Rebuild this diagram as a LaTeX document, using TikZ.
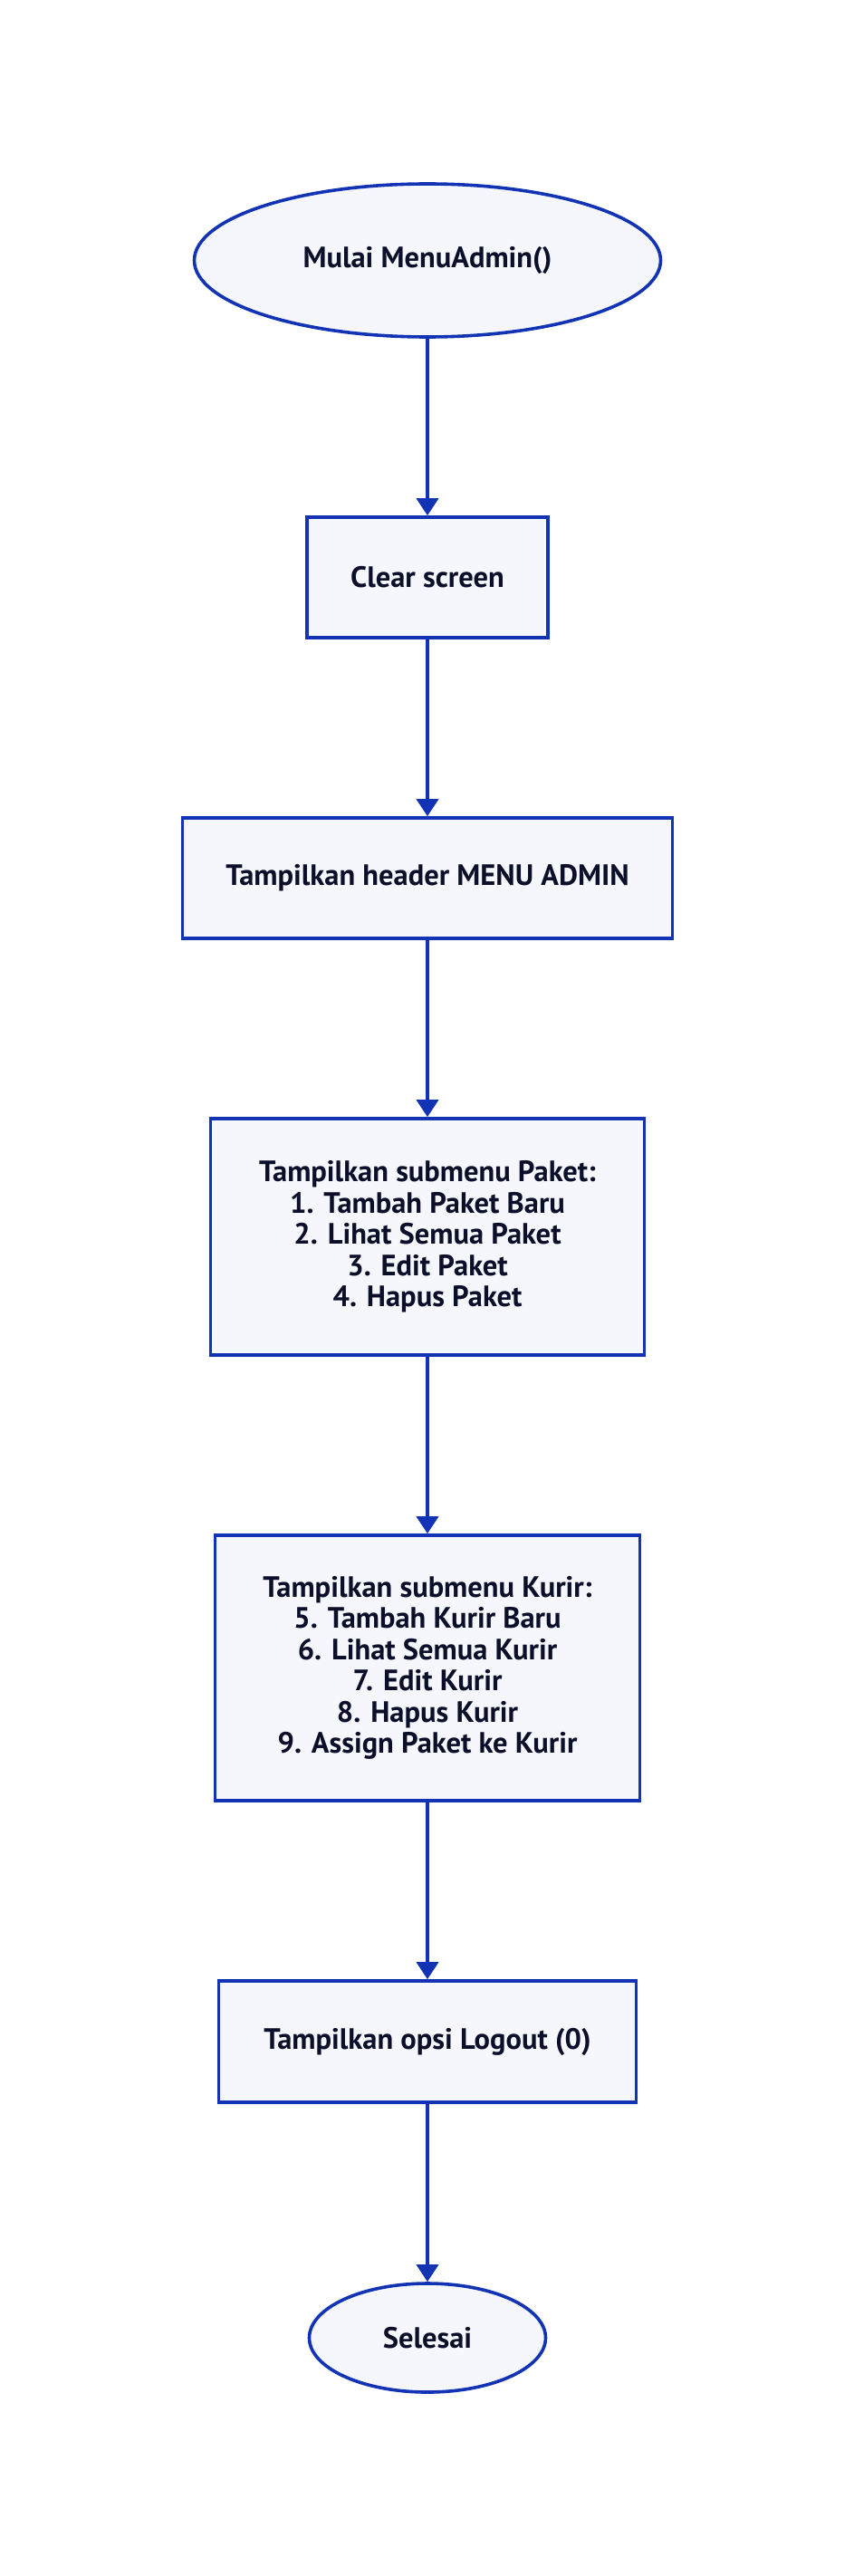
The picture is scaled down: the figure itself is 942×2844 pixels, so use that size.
\documentclass[tikz,border=0pt]{standalone}
\usepackage{fontspec}
\setmainfont{PT Sans}
\usetikzlibrary{shapes.geometric,arrows.meta}
\definecolor{edgeblue}{HTML}{1234B4}
\definecolor{boxfill}{HTML}{F5F7FD}
\definecolor{txt}{HTML}{0B0F2A}
\tikzset{
  base/.style={draw=edgeblue, line width=3.6pt, fill=boxfill, text=txt, align=center, inner sep=0pt,
    font=\fontsize{32.5}{34.5}\selectfont\bfseries},
  procbox/.style={base, rectangle},
  termnode/.style={base, ellipse},
  flow/.style={draw=edgeblue, line width=3.6pt, -{Triangle[length=19pt,width=24pt]}}
}
\begin{document}
\begin{tikzpicture}[x=1pt,y=-1pt]
\fill[white] (0,0) rectangle (942,2844);
\useasboundingbox (0,0) rectangle (942,2844);
\node[termnode, minimum width=515pt, minimum height=169pt] (start) at (472,287.5) {Mulai MenuAdmin()};
\node[procbox, minimum width=266pt, minimum height=133pt] (clear) at (472,637.5) {Clear screen};
\node[procbox, minimum width=541pt, minimum height=133pt] (header) at (472,969.5) {Tampilkan header MENU ADMIN};
\node[procbox, minimum width=479pt, minimum height=261pt] (paket) at (472,1365.5) {Tampilkan submenu Paket:\\1. Tambah Paket Baru\\2. Lihat Semua Paket\\3. Edit Paket\\4. Hapus Paket};
\node[procbox, minimum width=469pt, minimum height=293pt] (kurir) at (472,1841.5) {Tampilkan submenu Kurir:\\5. Tambah Kurir Baru\\6. Lihat Semua Kurir\\7. Edit Kurir\\8. Hapus Kurir\\9. Assign Paket ke Kurir};
\node[procbox, minimum width=461pt, minimum height=134pt] (logout) at (472,2254) {Tampilkan opsi Logout (0)};
\node[termnode, minimum width=261pt, minimum height=120pt] (end) at (472,2581) {Selesai};
\draw[flow] (start) -- (clear);
\draw[flow] (clear) -- (header);
\draw[flow] (header) -- (paket);
\draw[flow] (paket) -- (kurir);
\draw[flow] (kurir) -- (logout);
\draw[flow] (logout) -- (end);
\end{tikzpicture}
\end{document}
